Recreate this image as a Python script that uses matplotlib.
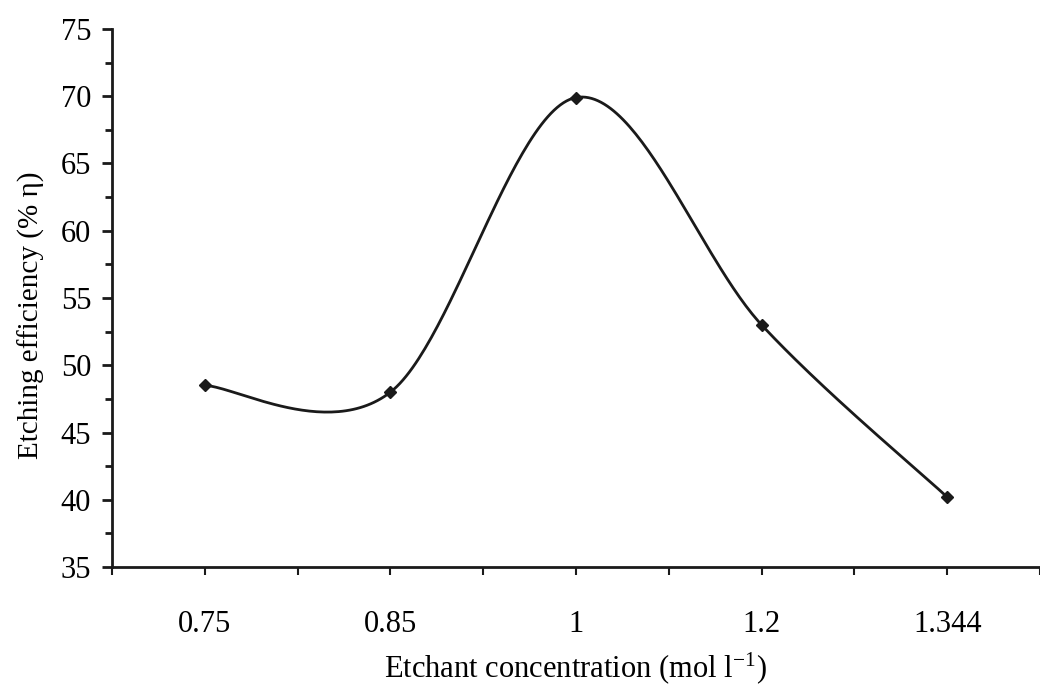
import numpy as np
import matplotlib.pyplot as plt
from matplotlib import rc
from matplotlib.ticker import MultipleLocator

# data
concentration = ["0.75", "0.85", "1", "1.2", "1.344"]
efficiency = [48.5, 48.0, 69.9, 53.0, 40.2]

rc('font', **{'family': 'serif', 'serif': ['Liberation Serif'], 'size': 22})
rc('mathtext', fontset='stix')


def smooth_line(xs, ys, n=60):
    # excel-like smoothed line: cubic bezier with catmull-rom control points
    pts = np.column_stack([xs, ys]).astype(float)
    out = []
    for i in range(len(pts) - 1):
        p0 = pts[max(i - 1, 0)]
        p1 = pts[i]
        p2 = pts[i + 1]
        p3 = pts[min(i + 2, len(pts) - 1)]
        c1 = p1 + (p2 - p0) / 6.
        c2 = p2 - (p3 - p1) / 6.
        t = np.linspace(0, 1, n)[:, None]
        seg = ((1 - t)**3 * p1 + 3 * (1 - t)**2 * t * c1
               + 3 * (1 - t) * t**2 * c2 + t**3 * p2)
        out.append(seg)
    out = np.vstack(out)
    return out[:, 0], out[:, 1]


x = np.arange(len(concentration))
sx, sy = smooth_line(x, efficiency)

fig = plt.figure(figsize=(10.4, 6.89), dpi=100)
ax = fig.add_axes([0.1077, 0.177, 0.8923, 0.781])

ax.plot(sx, sy, color='#1a1a1a', linewidth=2.0)
ax.plot(x, efficiency, linestyle='none', marker='D', markersize=6.5,
        color='#1a1a1a')

ax.set_xlim(-0.5, len(concentration) - 0.5)
ax.set_ylim(35, 75)
ax.yaxis.set_major_locator(MultipleLocator(5))
ax.yaxis.set_minor_locator(MultipleLocator(2.5))

# category axis: long ticks between categories, short ticks under them
ax.set_xticks(np.arange(-0.5, len(concentration), 1.0))
ax.set_xticklabels([])
ax.set_xticks(x, minor=True)
ax.set_xticklabels(concentration, minor=True)

for side in ['top', 'right']:
    ax.spines[side].set_visible(False)
for side in ['left', 'bottom']:
    ax.spines[side].set_linewidth(2.0)
    ax.spines[side].set_color('#1a1a1a')

ax.tick_params(axis='y', which='major', direction='out', length=7, width=2,
               pad=8, color='#1a1a1a')
ax.tick_params(axis='y', which='minor', direction='out', length=5, width=2,
               color='#1a1a1a')
ax.tick_params(axis='x', which='both', direction='out', length=6, width=1.5,
               pad=25, color='#1a1a1a')

ax.set_xlabel(r'Etchant concentration (mol l$^{\mathregular{-1}}$)', labelpad=8)
ax.set_ylabel('Etching efficiency (% η)', labelpad=11, fontsize=21)
ax.yaxis.label.set_y(0.468)

fig.savefig('out.png', dpi=100)
